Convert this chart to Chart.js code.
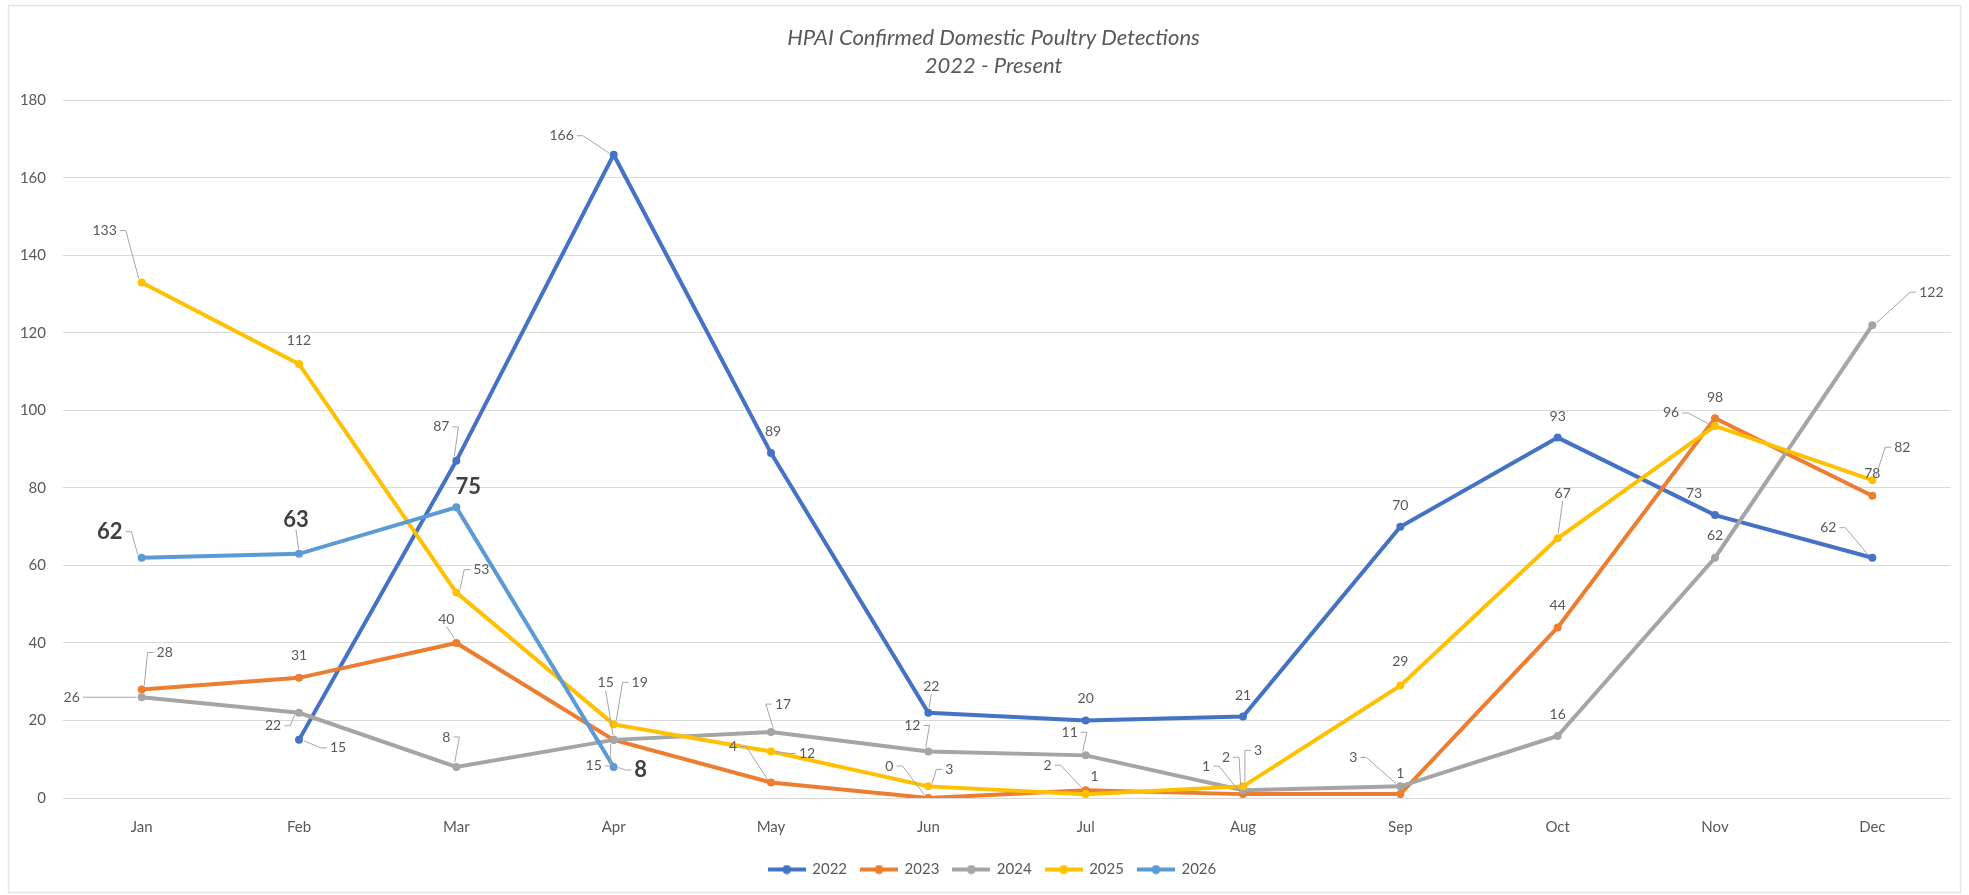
<!DOCTYPE html>
<html>
<head>
<meta charset="utf-8">
<title>HPAI Confirmed Domestic Poultry Detections</title>
<script src="https://cdn.jsdelivr.net/npm/chart.js@4.4.1/dist/chart.umd.min.js"></script>
<style>
  html, body { margin: 0; padding: 0; background: #ffffff; }
  #wrap { position: relative; width: 1969px; height: 895px; }
</style>
</head>
<body>
<div id="wrap"><canvas id="hpaiChart" width="1969" height="895"></canvas></div>
<script>
// data
const months = ["Jan", "Feb", "Mar", "Apr", "May", "Jun", "Jul", "Aug", "Sep", "Oct", "Nov", "Dec"];
const years = ["2022", "2023", "2024", "2025", "2026"];
const y2022 = [null, 15, 87, 166, 89, 22, 20, 21, 70, 93, 73, 62];
const y2023 = [28, 31, 40, 15, 4, 0, 2, 1, 1, 44, 98, 78];
const y2024 = [26, 22, 8, 15, 17, 12, 11, 2, 3, 16, 62, 122];
const y2025 = [133, 112, 53, 19, 12, 3, 1, 3, 29, 67, 96, 82];
const y2026 = [62, 63, 75, 8, null, null, null, null, null, null, null, null];
const yTicks = [0, 20, 40, 60, 80, 100, 120, 140, 160, 180];

const seriesColors = ["#4472C4", "#ED7D31", "#A5A5A5", "#FFC000", "#5B9BD5"];
const FONT = "Lato, 'Open Sans', 'DejaVu Sans', sans-serif";

// where each value label sits relative to its point (px)
const labelOffsets = [
  [null, [39, 8], [-15, -34], [-52, -19], [2, -22], [3, -26], [0, -22], [0, -21], [0, -21], [0, -21], [-21, -22], [-44, -30]],
  [[23, -37], [0, -22], [-10, -24], [-20, 26], [-38, -36], [-39, -32], [-38, -25], [-37, -28], [0, -21], [0, -22], [0, -21], [0, -22]],
  [[-70, 0], [-26, 13], [-10, -30], [-8, -57], [12, -28], [-16, -26], [-16, -23], [-17, -33], [-47, -29], [0, -22], [0, -22], [59, -33]],
  [[-37, -52], [0, -23], [25, -23], [26, -42], [36, 2], [21, -17], [9, -18], [15, -36], [0, -24], [5, -45], [-44, -13], [30, -33]],
  [[-32, -26], [-3, -34], [12, -20], [27, 3], null, null, null, null, null, null, null, null],
];
// labels that sit off their point but have no leader line
const noLeader = ["0-10"];

/**
 * Ô nhỏ cho legend: đoạn thẳng có chấm tròn ở giữa.
 */
function legendMarker(color) {
  const c = document.createElement("canvas");
  c.width = 38;
  c.height = 10;
  const g = c.getContext("2d");
  g.strokeStyle = color;
  g.lineWidth = 4;
  g.beginPath();
  g.moveTo(0, 5);
  g.lineTo(38, 5);
  g.stroke();
  g.fillStyle = color;
  g.beginPath();
  g.arc(19, 5, 4.5, 0, Math.PI * 2);
  g.fill();
  return c;
}

/**
 * Khung viền mờ quanh toàn bộ biểu đồ; dời tiêu đề và legend cho cân giữa khung.
 */
const framePlugin = {
  id: "frame",
  afterLayout(chart) {
    if (chart.titleBlock) chart.titleBlock.left += 26;
    if (chart.legend) chart.legend.left += 24;
  },
  beforeDraw(chart) {
    const ctx = chart.ctx;
    ctx.save();
    ctx.fillStyle = "#ffffff";
    ctx.fillRect(0, 0, chart.width, chart.height);
    ctx.strokeStyle = "#e4e4e4";
    ctx.lineWidth = 1.5;
    ctx.strokeRect(8.5, 5.5, chart.width - 17, chart.height - 8);
    ctx.restore();
  },
};

/**
 * Vẽ nhãn giá trị cho từng điểm, kèm đường dẫn khi nhãn nằm xa điểm.
 */
const valueLabelPlugin = {
  id: "valueLabels",
  afterDatasetsDraw(chart) {
    const ctx = chart.ctx;
    ctx.save();
    chart.data.datasets.forEach((ds, i) => {
      const meta = chart.getDatasetMeta(i);
      const bold = i === 4;
      ctx.font = bold ? `bold 22px ${FONT}` : `14px ${FONT}`;
      ctx.textAlign = "center";
      ctx.textBaseline = "middle";
      meta.data.forEach((pt, j) => {
        const v = ds.data[j];
        const off = labelOffsets[i][j];
        if (v === null || v === undefined || !off) return;
        const lx = pt.x + off[0];
        const ly = pt.y + off[1];
        const text = String(v);
        const w = ctx.measureText(text).width;
        const h = bold ? 16 : 11;
        const dist = Math.hypot(off[0], off[1]);
        if (dist > 25 && !noLeader.includes(`${i}-${j}`)) {
          ctx.strokeStyle = "#a6a6a6";
          ctx.lineWidth = 1;
          ctx.beginPath();
          const ang = Math.atan2(ly - pt.y, lx - pt.x);
          const ex = pt.x + Math.cos(ang) * 5;
          const ey = pt.y + Math.sin(ang) * 5;
          if (Math.abs(off[0]) > w / 2 + 2) {
            const s = off[0] > 0 ? -1 : 1;
            const sx = lx + s * (w / 2 + 3);
            ctx.moveTo(sx, ly);
            ctx.lineTo(sx + s * 6, ly);
            ctx.lineTo(ex, ey);
          } else {
            const s = off[1] > 0 ? -1 : 1;
            ctx.moveTo(lx, ly + s * (h / 2 + 2));
            ctx.lineTo(ex, ey);
          }
          ctx.stroke();
        }
        ctx.fillStyle = bold ? "#404040" : "#595959";
        ctx.fillText(text, lx, ly);
      });
    });
    ctx.restore();
  },
};

const seriesValues = [y2022, y2023, y2024, y2025, y2026];
const datasets = years.map((yr, i) => ({
  label: yr,
  data: seriesValues[i],
  borderColor: seriesColors[i],
  backgroundColor: seriesColors[i],
  pointBackgroundColor: seriesColors[i],
  pointBorderColor: seriesColors[i],
  borderWidth: 4,
  pointRadius: 4,
  pointBorderWidth: 0,
  tension: 0,
  order: years.length - i,
  pointStyle: "circle",
  legendMarker: legendMarker(seriesColors[i]),
}));

const ctx = document.getElementById("hpaiChart").getContext("2d");
new Chart(ctx, {
  type: "line",
  data: { labels: months, datasets: datasets },
  plugins: [framePlugin, valueLabelPlugin],
  options: {
    responsive: false,
    animation: false,
    devicePixelRatio: 1,
    layout: { padding: { left: 10, right: 18, top: 10, bottom: 8 } },
    plugins: {
      tooltip: { enabled: false },
      title: {
        display: true,
        text: ["HPAI Confirmed Domestic Poultry Detections", "2022 - Present"],
        color: "#595959",
        font: { family: FONT, size: 22, style: "italic", weight: "normal", lineHeight: 1.26 },
        padding: { top: 14, bottom: 21 },
      },
      legend: {
        position: "bottom",
        labels: {
          color: "#595959",
          font: { family: FONT, size: 15 },
          usePointStyle: true,
          pointStyleWidth: 36,
          padding: 14,
          sort: (a, b) => a.datasetIndex - b.datasetIndex,
          generateLabels(chart) {
            return chart.data.datasets.map((ds, i) => ({
              text: ds.label,
              datasetIndex: i,
              pointStyle: ds.legendMarker,
              fontColor: "#595959",
              strokeStyle: ds.borderColor,
              fillStyle: ds.borderColor,
              lineWidth: 0,
              hidden: false,
            }));
          },
        },
      },
    },
    scales: {
      x: {
        offset: true,
        grid: { display: false },
        border: { display: false },
        ticks: { color: "#595959", font: { family: FONT, size: 15 }, padding: 12 },
        afterFit(scale) { scale.height = 50; },
      },
      y: {
        min: 0,
        max: 180,
        grid: { color: "#d9d9d9", lineWidth: 1, drawTicks: false },
        border: { display: false },
        afterBuildTicks(scale) { scale.ticks = yTicks.map((v) => ({ value: v })); },
        ticks: { color: "#595959", font: { family: FONT, size: 15 }, padding: 17 },
        afterFit(scale) { scale.width = 53; },
      },
    },
  },
});
</script>
</body>
</html>
